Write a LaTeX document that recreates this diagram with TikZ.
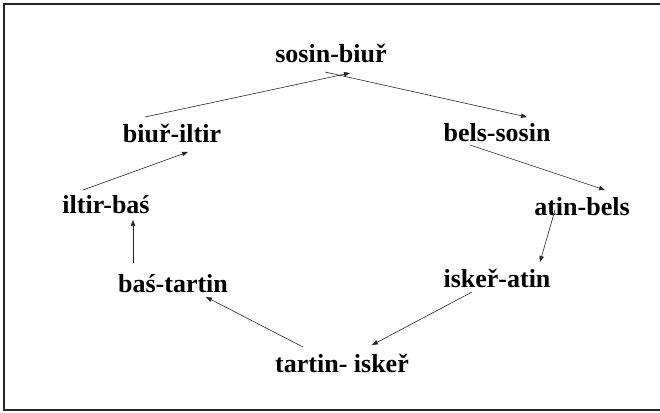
\documentclass[tikz,border=0pt]{standalone}
\usepackage{fontspec}
\setmainfont{Liberation Serif}
\usetikzlibrary{arrows.meta}
\tikzset{
  lbl/.style={anchor=base, inner sep=0pt, font=\fontsize{26}{30}\selectfont\bfseries},
  arr/.style={draw=black!85, line width=0.6pt, -{Triangle[length=6pt,width=4.5pt]}}
}
\begin{document}
\begin{tikzpicture}[x=1pt,y=-1pt]
\useasboundingbox (0,0) rectangle (660,412);
\draw[line width=1.6pt, black!85] (661,4) -- (4,4) -- (4,410) -- (661,410);
\node[lbl] (s)  at (331,63)  {sosin-biuř};
\node[lbl] (bi) at (172,142) {biuř-iltir};
\node[lbl] (be) at (497,141) {bels-sosin};
\node[lbl] (il) at (106,213) {iltir-baś};
\node[lbl] (at) at (582,215) {atin-bels};
\node[lbl] (bt) at (173,292) {baś-tartin};
\node[lbl] (ia) at (497,287) {iskeř-atin};
\node[lbl] (ti) at (342,372) {tartin- iskeř};
\draw[arr] ([shift={(-27,-25)}]bi.base) -- ([shift={(19,10)}]s.base);
\draw[arr] ([shift={(-6,9)}]s.base) -- ([shift={(30,-24)}]be.base);
\draw[arr] ([shift={(-27,4)}]be.base) -- ([shift={(23,-25)}]at.base);
\draw[arr] ([shift={(-27,-5)}]at.base) -- ([shift={(43,-25)}]ia.base);
\draw[arr] ([shift={(-25,5)}]ia.base) -- ([shift={(30,-27)}]ti.base);
\draw[arr] ([shift={(-39,-25)}]ti.base) -- ([shift={(33,5)}]bt.base);
\draw[arr] ([shift={(-40,-29)}]bt.base) -- ([shift={(27,7)}]il.base);
\draw[arr] ([shift={(-23,-23)}]il.base) -- ([shift={(16,10)}]bi.base);
\end{tikzpicture}
\end{document}
